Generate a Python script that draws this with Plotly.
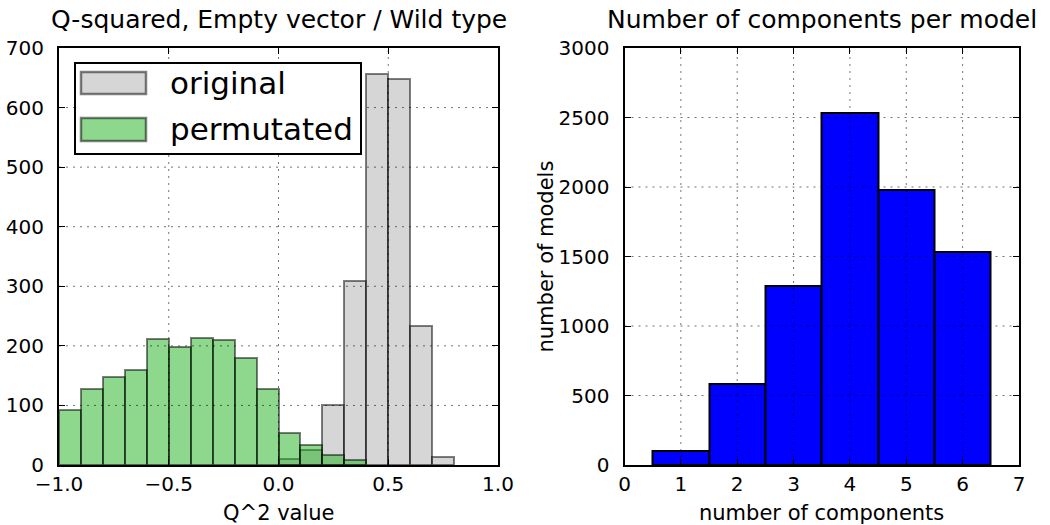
import plotly.graph_objects as go

# ---------------- data ----------------
bin_width = 0.1
orig_bin_starts = [0.0, 0.1, 0.2, 0.3, 0.4, 0.5, 0.6, 0.7]
orig_counts = [10, 25, 101, 309, 656, 648, 234, 14]

perm_bin_starts = [-1.0, -0.9, -0.8, -0.7, -0.6, -0.5, -0.4, -0.3, -0.2, -0.1,
                   0.0, 0.1, 0.2, 0.3]
perm_counts = [93, 127, 148, 160, 212, 198, 214, 210, 180, 127, 54, 33, 17, 8]

n_components = [1, 2, 3, 4, 5, 6]
n_models = [100, 580, 1287, 2533, 1975, 1534]

left_xticks = [-1.0, -0.5, 0.0, 0.5, 1.0]
left_yticks = [0, 100, 200, 300, 400, 500, 600, 700]
right_xticks = [0, 1, 2, 3, 4, 5, 6, 7]
right_yticks = [0, 500, 1000, 1500, 2000, 2500, 3000]

FONT = "DejaVu Sans"
W, H = 1050, 525

def px(x):
    return x / W

def py(y):
    return 1 - y / H

fig = go.Figure()

fig.add_trace(go.Bar(
    x=[s + bin_width / 2 for s in orig_bin_starts], y=orig_counts, width=bin_width,
    name="original",
    marker=dict(color="rgba(174,174,174,0.5)", line=dict(color="rgba(0,0,0,0.5)", width=2)),
    xaxis="x", yaxis="y", showlegend=False))
fig.add_trace(go.Bar(
    x=[s + bin_width / 2 for s in perm_bin_starts], y=perm_counts, width=bin_width,
    name="permutated",
    marker=dict(color="rgba(28,178,28,0.5)", line=dict(color="rgba(0,0,0,0.5)", width=2)),
    xaxis="x", yaxis="y", showlegend=False))
fig.add_trace(go.Bar(
    x=n_components, y=n_models, width=1.0, name="models",
    marker=dict(color="rgb(0,0,255)", line=dict(color="black", width=2)),
    xaxis="x2", yaxis="y2", showlegend=False))

axis_common = dict(showline=True, linewidth=2, linecolor="black", mirror="allticks",
                   ticks="inside", ticklen=6, tickwidth=1.2, tickcolor="black",
                   showgrid=False, zeroline=False, automargin=False,
                   tickfont=dict(family=FONT, size=20, color="black"))

yd = [py(465), py(48)]
fig.update_layout(
    width=W, height=H, margin=dict(l=0, r=0, t=0, b=0, autoexpand=False),
    paper_bgcolor="white", plot_bgcolor="white",
    barmode="overlay", bargap=0,
    font=dict(family=FONT, color="black"),
    xaxis=dict(domain=[px(59), px(498)], range=[-1.0, 1.0], tickvals=left_xticks,
               tickformat=".1f", anchor="y", ticklabelstandoff=0, **axis_common),
    yaxis=dict(domain=yd, range=[0, 700], tickvals=left_yticks, anchor="x",
               ticklabelstandoff=9, **axis_common),
    xaxis2=dict(domain=[px(624.5), px(1019)], range=[0, 7], tickvals=right_xticks,
                anchor="y2", ticklabelstandoff=0, **axis_common),
    yaxis2=dict(domain=yd, range=[0, 3000], tickvals=right_yticks, anchor="x2",
                ticklabelstandoff=9, **axis_common),
)

# grid lines drawn above bars (dotted)
grid_line = dict(color="rgba(0,0,0,0.55)", width=1, dash="2px,5px")
shapes = []
for xv in left_xticks[1:-1]:
    shapes.append(dict(type="line", xref="x", yref="y domain", x0=xv, x1=xv, y0=0, y1=1,
                       line=grid_line, layer="above"))
for yv in left_yticks[1:-1]:
    shapes.append(dict(type="line", xref="x domain", yref="y", x0=0, x1=1, y0=yv, y1=yv,
                       line=grid_line, layer="above"))
for xv in right_xticks[1:-1]:
    shapes.append(dict(type="line", xref="x2", yref="y2 domain", x0=xv, x1=xv, y0=0, y1=1,
                       line=grid_line, layer="above"))
for yv in right_yticks[1:-1]:
    shapes.append(dict(type="line", xref="x2 domain", yref="y2", x0=0, x1=1, y0=yv, y1=yv,
                       line=grid_line, layer="above"))

# custom legend
shapes.append(dict(type="rect", xref="paper", yref="paper", x0=px(75), x1=px(361),
                   y0=py(154), y1=py(63), line=dict(color="black", width=2),
                   fillcolor="white", layer="above"))
shapes.append(dict(type="rect", xref="paper", yref="paper", x0=px(81), x1=px(146),
                   y0=py(94), y1=py(72), line=dict(color="rgba(0,0,0,0.5)", width=2.5),
                   fillcolor="rgba(174,174,174,0.5)", layer="above"))
shapes.append(dict(type="rect", xref="paper", yref="paper", x0=px(81), x1=px(146),
                   y0=py(141), y1=py(118), line=dict(color="rgba(0,0,0,0.5)", width=2.5),
                   fillcolor="rgba(28,178,28,0.5)", layer="above"))
fig.update_layout(shapes=shapes)

ann = []
def text(x, y, s, size, xanchor="center", angle=0):
    ann.append(dict(x=px(x), y=py(y), xref="paper", yref="paper", text=s, showarrow=False,
                    xanchor=xanchor, yanchor="middle", textangle=angle,
                    font=dict(family=FONT, size=size, color="black")))

text(278.5, 19, "Q-squared, Empty vector / Wild type", 25)
text(821.5, 19, "Number of components per model", 25)
text(278.5, 513, "Q^2 value", 21)
text(821.5, 513, "number of components", 21)
text(545, 256.5, "number of models", 21, angle=-90)
text(168, 83, "original", 31, xanchor="left")
text(168, 129, "permutated", 31, xanchor="left")
fig.update_layout(annotations=ann)

fig.write_html("out.html")
